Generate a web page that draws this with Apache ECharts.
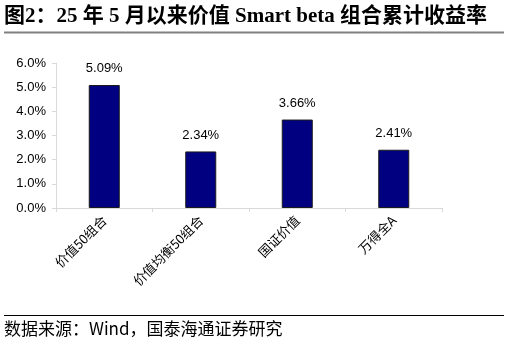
<!DOCTYPE html>
<html><head><meta charset="utf-8">
<script src="https://cdn.jsdelivr.net/npm/echarts@6/dist/echarts.min.js"></script>
<style>html,body{margin:0;padding:0;background:#fff}#c{width:510px;height:346px}</style>
</head><body><div id="c"></div>
<script>
const categories = ['价值50组合', '价值均衡50组合', '国证价值', '万得全A'];
const values = [5.09, 2.34, 3.66, 2.41];
const yTicks = [0, 1, 2, 3, 4, 5, 6];
const titleText = '图2：25 年 5 月以来价值 Smart beta 组合累计收益率';
const sourceText = '数据来源：Wind，国泰海通证券研究';

const chart = echarts.init(document.getElementById('c'), null, {renderer: 'canvas'});
chart.setOption({
  animation: false,
  backgroundColor: '#fff',
  grid: {left: 56, right: 68, top: 63, bottom: 138},
  xAxis: {
    type: 'category', data: categories,
    axisLine: {lineStyle: {color: '#d9d9d9', width: 1}},
    axisTick: {show: true, alignWithLabel: false, length: 4, lineStyle: {color: '#d9d9d9'}},
    axisLabel: {rotate: 45, interval: 0, margin: 10, fontSize: 13, color: '#000',
      fontFamily: '"Noto Sans CJK SC", "Liberation Sans", sans-serif'}
  },
  yAxis: {
    type: 'value', min: yTicks[0], max: yTicks[yTicks.length - 1], interval: 1,
    axisLine: {show: true, lineStyle: {color: '#d9d9d9'}},
    axisTick: {show: true, length: 4, lineStyle: {color: '#d9d9d9'}},
    splitLine: {show: false},
    axisLabel: {formatter: v => v.toFixed(1) + '%', fontSize: 13, color: '#000', margin: 10,
      fontFamily: '"Liberation Sans", Arial, sans-serif'}
  },
  series: [{
    type: 'bar', data: values, barWidth: 31,
    itemStyle: {color: '#000080', borderColor: '#1a1a1a', borderWidth: 1},
    label: {show: true, position: 'top', distance: 10, formatter: p => p.value.toFixed(2) + '%',
      fontSize: 13, color: '#000', fontFamily: '"Liberation Sans", Arial, sans-serif'}
  }],
  graphic: [
    {type: 'text', left: 4, top: 6, style: {text: titleText, fontSize: 21, fontWeight: 'bold', fill: '#000',
      fontFamily: '"Liberation Serif", "Noto Sans CJK SC", serif'}},
    {type: 'line', shape: {x1: 4, y1: 32.5, x2: 504, y2: 32.5}, style: {stroke: '#808080', lineWidth: 2}},
    {type: 'line', shape: {x1: 4, y1: 315.5, x2: 504, y2: 315.5}, style: {stroke: '#000', lineWidth: 1}},
    {type: 'text', left: 4, top: 320, style: {text: sourceText, fontSize: 17, fill: '#000',
      fontFamily: '"Noto Sans CJK SC", "Liberation Sans", sans-serif'}}
  ]
});
</script></body></html>
